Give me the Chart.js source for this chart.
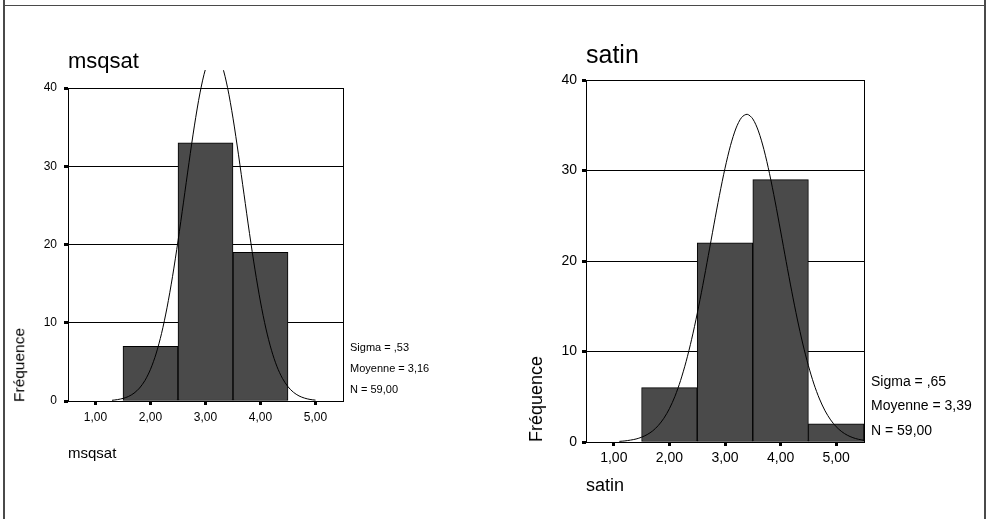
<!DOCTYPE html>
<html>
<head>
<meta charset="utf-8">
<script src="https://cdn.jsdelivr.net/npm/chart.js@4.4.1/dist/chart.umd.min.js"></script>
<style>
  body {
    margin: 0;
    width: 989px;
    height: 519px;
    overflow: hidden;
    position: relative;
    background: #fff;
    color: #000;
    font-family: "Liberation Sans", Arial, sans-serif;
  }
  .txt { position: absolute; white-space: nowrap; line-height: 1; }
  .rot { transform: translate(-50%, -50%) rotate(-90deg); }
  .frame { position: absolute; background: #4a4a4a; }
  canvas { position: absolute; }
</style>
</head>
<body>
<div class="frame" style="left:3px;top:5px;width:983px;height:1px;"></div>
<div class="frame" style="left:3px;top:0;width:2px;height:519px;"></div>
<div class="frame" style="left:984px;top:0;width:2px;height:519px;"></div>

<canvas id="msqsatChart" width="360" height="400" style="left:0;top:60px;"></canvas>
<canvas id="satinChart" width="400" height="430" style="left:500px;top:50px;"></canvas>

<div class="txt" style="left:68px;top:50px;font-size:22px;">msqsat</div>
<div class="txt rot" style="left:19px;top:365px;font-size:15.5px;">Fréquence</div>
<div class="txt" style="left:68px;top:445px;font-size:15px;">msqsat</div>
<div class="txt" style="left:350px;top:342px;font-size:11px;">Sigma = ,53</div>
<div class="txt" style="left:350px;top:363px;font-size:11px;">Moyenne = 3,16</div>
<div class="txt" style="left:350px;top:384px;font-size:11px;">N = 59,00</div>

<div class="txt" style="left:586px;top:42px;font-size:25px;">satin</div>
<div class="txt rot" style="left:536px;top:399px;font-size:18px;">Fréquence</div>
<div class="txt" style="left:586px;top:476px;font-size:18px;">satin</div>
<div class="txt" style="left:871px;top:374px;font-size:14px;">Sigma = ,65</div>
<div class="txt" style="left:871px;top:398px;font-size:14px;">Moyenne = 3,39</div>
<div class="txt" style="left:871px;top:423px;font-size:14px;">N = 59,00</div>

<script>
// histogram bins (class centres) and counts
const msqsatBins = [2, 3, 4];
const msqsatCounts = [7, 33, 19];
const satinBins = [2, 3, 4, 5];
const satinCounts = [6, 22, 29, 2];

// fitted normal curves
const msqsatCurveX = [1.3, 1.4, 1.5, 1.6, 1.7, 1.8, 1.9, 2.0, 2.1, 2.2, 2.3, 2.4, 2.5,
  2.6, 2.7, 2.8, 2.9, 3.0, 3.1, 3.2, 3.3, 3.4, 3.5, 3.6, 3.7, 3.8, 3.9, 4.0, 4.1, 4.2,
  4.3, 4.4, 4.5, 4.6, 4.7, 4.8, 4.9, 5.0];
const msqsatCurveY = [0.09, 0.18, 0.33, 0.58, 1.0, 1.65, 2.63, 4.05, 6.01, 8.61, 11.91,
  15.89, 20.45, 25.41, 30.47, 35.26, 39.37, 42.43, 44.12, 44.28, 42.89, 40.08, 36.15,
  31.46, 26.43, 21.42, 16.76, 12.65, 9.21, 6.48, 4.39, 2.88, 1.82, 1.11, 0.65, 0.37,
  0.2, 0.11];
const satinCurveX = [1.1, 1.2, 1.3, 1.4, 1.5, 1.6, 1.7, 1.8, 1.9, 2.0, 2.1, 2.2, 2.3,
  2.4, 2.5, 2.6, 2.7, 2.8, 2.9, 3.0, 3.1, 3.2, 3.3, 3.4, 3.5, 3.6, 3.7, 3.8, 3.9, 4.0,
  4.1, 4.2, 4.3, 4.4, 4.5, 4.6, 4.7, 4.8, 4.9, 5.0, 5.1, 5.2, 5.3, 5.4, 5.5];
const satinCurveY = [0.07, 0.12, 0.21, 0.33, 0.53, 0.82, 1.23, 1.82, 2.62, 3.68, 5.05,
  6.78, 8.88, 11.35, 14.18, 17.3, 20.61, 23.99, 27.26, 30.25, 32.78, 34.7, 35.87, 36.21,
  35.7, 34.37, 32.32, 29.68, 26.62, 23.31, 19.94, 16.66, 13.59, 10.83, 8.43, 6.4, 4.75,
  3.44, 2.44, 1.69, 1.14, 0.75, 0.48, 0.3, 0.19];

const xTickValues = [1, 2, 3, 4, 5];
const xTickLabels = ["1,00", "2,00", "3,00", "4,00", "5,00"];

Chart.defaults.color = "#000";
Chart.defaults.font.family = '"Liberation Sans", Arial, sans-serif';

function toPoints(xs, ys) {
  return xs.map(function (x, i) {
    return { x: x, y: ys[i] };
  });
}

function makeHistogram(element, opts) {
  var config = {
    type: "bar",
    data: {
      datasets: [
        {
          type: "line",
          data: toPoints(opts.curveX, opts.curveY),
          borderColor: "#000",
          borderWidth: 1,
          pointRadius: 0,
          tension: 0.3,
          fill: false,
          order: 0,
          clip: opts.clip,
        },
        {
          type: "bar",
          data: toPoints(opts.bins, opts.counts),
          backgroundColor: "#4a4a4a",
          borderColor: "#000",
          borderWidth: 1,
          borderSkipped: false,
          barPercentage: 1,
          categoryPercentage: 1,
          order: 1,
        },
      ],
    },
    options: {
      responsive: false,
      animation: false,
      layout: { padding: opts.padding },
      plugins: {
        legend: { display: false },
        tooltip: { enabled: false },
      },
      scales: {
        x: {
          type: "linear",
          min: 0.5,
          max: 5.5,
          offset: false,
          afterBuildTicks: function (scale) {
            scale.ticks = xTickValues.map(function (v) {
              return { value: v };
            });
          },
          afterFit: function (scale) {
            scale.height = opts.xHeight;
          },
          ticks: {
            font: { size: opts.tickSize },
            padding: opts.xPad,
            maxRotation: 0,
            callback: function (value) {
              return xTickLabels[xTickValues.indexOf(value)];
            },
          },
          grid: {
            offset: false,
            drawOnChartArea: false,
            tickLength: 4,
            tickWidth: 3,
            tickColor: "#000",
          },
          border: { display: true, color: "#000", width: 1 },
        },
        y: {
          min: 0,
          max: 40,
          afterFit: function (scale) {
            scale.width = opts.yWidth;
          },
          ticks: {
            stepSize: 10,
            font: { size: opts.tickSize },
            padding: opts.yPad,
          },
          grid: {
            color: "#000",
            lineWidth: 1,
            tickLength: 4,
            tickWidth: 3,
            tickColor: "#000",
          },
          border: { display: true, color: "#000", width: 1 },
        },
        y2: {
          position: "right",
          display: true,
          afterFit: function (scale) {
            scale.width = 0;
          },
          ticks: { display: false },
          grid: { display: false, drawTicks: false },
          border: { display: true, color: "#000", width: 1 },
        },
      },
    },
  };

  return new Chart(element, config);
}

makeHistogram(document.getElementById("msqsatChart"), {
  bins: msqsatBins,
  counts: msqsatCounts,
  curveX: msqsatCurveX,
  curveY: msqsatCurveY,
  clip: { left: 0, top: 18, right: 0, bottom: 0 },
  padding: { top: 28, left: 0, right: 17, bottom: 0 },
  xHeight: 59,
  yWidth: 68,
  tickSize: 12,
  xPad: 5,
  yPad: 7,
});

makeHistogram(document.getElementById("satinChart"), {
  bins: satinBins,
  counts: satinCounts,
  curveX: satinCurveX,
  curveY: satinCurveY,
  clip: { left: 0, top: 0, right: 0, bottom: 0 },
  padding: { top: 30, left: 0, right: 36, bottom: 0 },
  xHeight: 38,
  yWidth: 86,
  tickSize: 14,
  xPad: 4,
  yPad: 5,
});
</script>
</body>
</html>
